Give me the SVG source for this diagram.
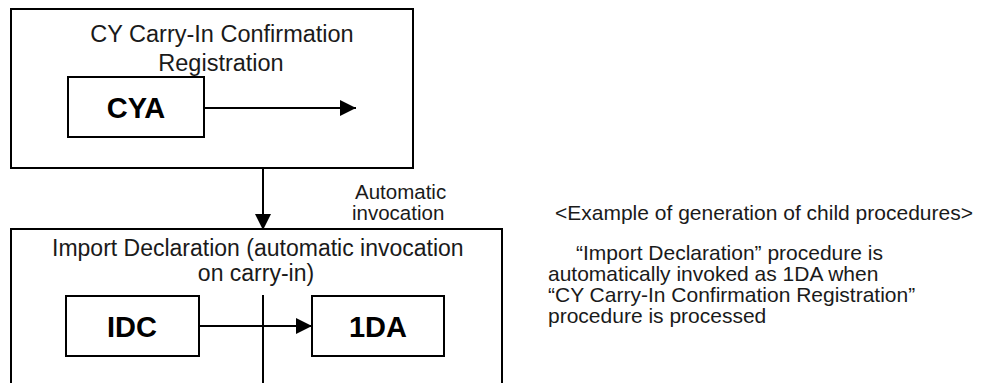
<svg xmlns="http://www.w3.org/2000/svg" width="987" height="383" viewBox="0 0 987 383">
  <style>
    .box { fill: #ffffff; stroke: #000000; stroke-width: 2; }
    .line { stroke: #000000; stroke-width: 2; fill: none; }
    .t { font-family: "Liberation Sans", Arial, sans-serif; fill: #1a1a1a; }
    .title { font-size: 23.5px; }
    .sub { font-size: 23px; }
    .lbl { font-size: 20.5px; }
    .note { font-size: 21px; }
    .code { font-size: 29px; font-weight: bold; fill: #000; }
  </style>
  <defs>
    <marker id="head" viewBox="0 0 10 10" refX="10" refY="5" markerWidth="8" markerHeight="8" markerUnits="strokeWidth" orient="auto">
      <path d="M0,0 L10,5 L0,10 Z" fill="#000"/>
    </marker>
  </defs>
  <rect width="987" height="383" fill="#ffffff"/>

  <!-- parent procedure -->
  <g id="cy-registration">
    <rect class="box" x="11" y="9" width="402" height="159"/>
    <text class="t title" x="222" y="42" text-anchor="middle">CY Carry-In Confirmation</text>
    <text class="t title" x="221" y="71" text-anchor="middle">Registration</text>
  </g>
  <g id="cya">
    <rect class="box" x="68" y="77" width="136" height="60"/>
    <text class="t code" x="136" y="118" text-anchor="middle">CYA</text>
  </g>

  <!-- child procedure -->
  <g id="import-declaration">
    <rect class="box" x="11" y="229" width="491" height="180"/>
    <text class="t sub" x="52" y="256">Import Declaration (automatic invocation</text>
    <text class="t sub" x="256" y="281" text-anchor="middle">on carry-in)</text>
  </g>
  <g id="idc">
    <rect class="box" x="66" y="296" width="133" height="60"/>
    <text class="t code" x="132" y="337" text-anchor="middle">IDC</text>
  </g>
  <g id="1da">
    <rect class="box" x="312" y="296" width="132" height="60"/>
    <text class="t code" x="378" y="337" text-anchor="middle">1DA</text>
  </g>

  <g id="connectors">
    <line class="line" x1="204" y1="108" x2="356" y2="108" marker-end="url(#head)"/>
    <line class="line" x1="263" y1="168" x2="263" y2="230" marker-end="url(#head)"/>
    <line class="line" x1="263" y1="295" x2="263" y2="383"/>
    <line class="line" x1="199" y1="326" x2="312" y2="326" marker-end="url(#head)"/>
  </g>

  <g id="invocation-label">
    <text class="t lbl" x="355" y="199">Automatic</text>
    <text class="t lbl" x="352" y="220">invocation</text>
  </g>

  <g id="note">
    <text class="t note" x="555" y="220" font-size="21.5">&lt;Example  of generation  of child procedures&gt;</text>
    <text class="t note" x="576" y="260">“Import Declaration”  procedure is</text>
    <text class="t note" x="548" y="281">automatically  invoked  as 1DA when</text>
    <text class="t note" x="548" y="302">“CY Carry-In Confirmation  Registration”</text>
    <text class="t note" x="548" y="323">procedure is processed</text>
  </g>
</svg>
